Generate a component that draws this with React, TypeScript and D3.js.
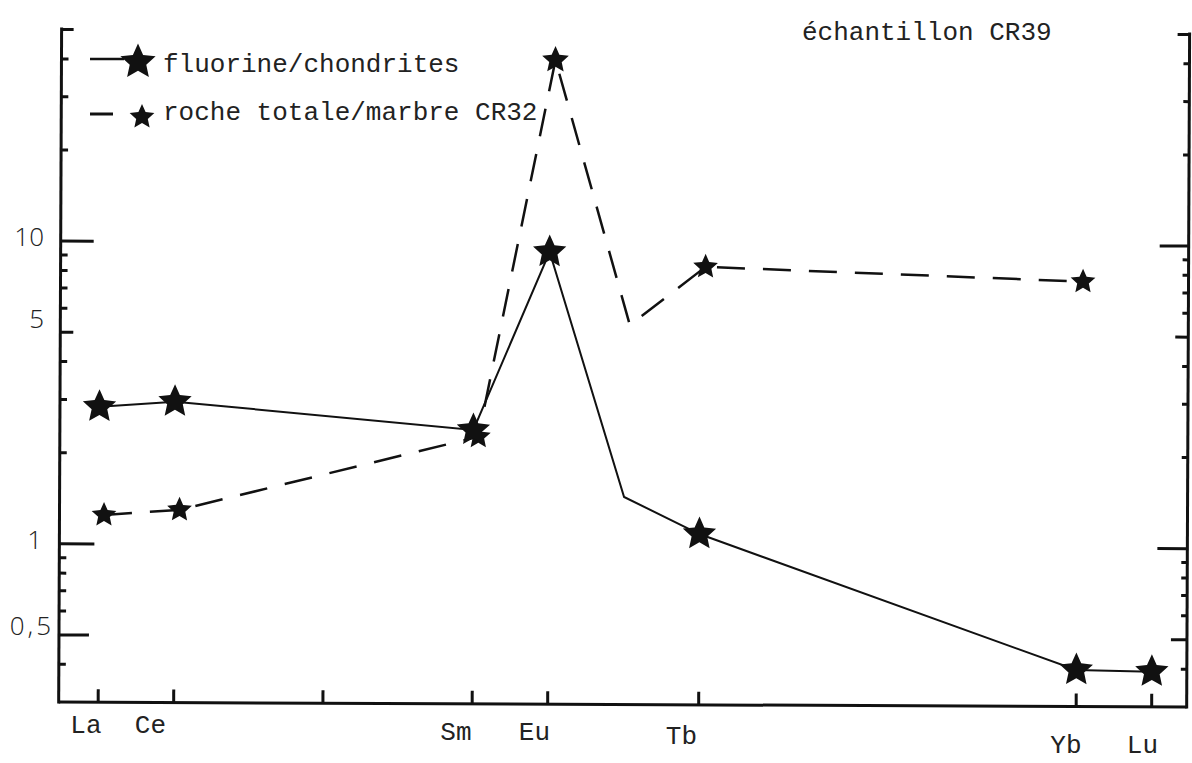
import React from 'react';
import * as d3 from 'd3';

// ---- data ----
const elements = ['La', 'Ce', 'Pr', 'Nd', 'Pm', 'Sm', 'Eu', 'Gd', 'Tb', 'Dy', 'Ho', 'Er', 'Tm', 'Yb', 'Lu'];
const tickedElements = ['La', 'Ce', 'Nd', 'Sm', 'Eu', 'Tb', 'Yb', 'Lu'];
const labeledElements = ['La', 'Ce', 'Sm', 'Eu', 'Tb', 'Yb', 'Lu'];

const fluorineElements = ['La', 'Ce', 'Sm', 'Eu', 'Gd', 'Tb', 'Yb', 'Lu'];
const fluorineValues = [2.84, 2.96, 2.41, 9.36, 1.455, 1.1, 0.396, 0.392];
const fluorineMarked = [true, true, true, true, false, true, true, true];

const rocheElements = ['La', 'Ce', 'Sm', 'Eu', 'Gd', 'Tb', 'Yb'];
const rocheValues = [1.247, 1.3, 2.29, 40.3, 5.38, 8.4, 7.6];
const rocheMarked = [true, true, true, true, false, true, true];

const yLabelValues = [10, 5, 1, 0.5];
const yLabelTexts = ['10', '5', '1', '0,5'];
const yTickValues = [50, 40, 30, 20, 10, 9, 8, 7, 6, 5, 4, 3, 2, 1, 0.9, 0.8, 0.7, 0.6, 0.5, 0.4];

const legendTexts = ['fluorine/chondrites', 'roche totale/marbre CR32'];
const titleText = 'échantillon CR39';

// ---- styling (hand-placed label offsets) ----
const xLabelBaselines = [733, 733, 740, 740, 744, 753, 753];
const xLabelDx = [2, -9, -2, 1, -3, 4, 5];
const yLabelDy = [4, -4.5, 4.5, 0];
const yLabelAnchorX = [44, 44, 42, 54];

const W = 1192;
const H = 763;
const LEFT = 60;
const RIGHT = 1188;
const TOP = 32;
const BOTTOM = 704.5;
const INK = '#111';
const TEXT_INK = '#222';
const MONO = '"Liberation Mono", "DejaVu Sans Mono", monospace';

const xScale = d3.scaleLinear().domain([0, 1, 5, 14]).range([99.5, 175, 473.5, 1153]);
const yScale = d3.scaleLog().domain([0.3, 50]).range([BOTTOM, TOP]);
const idx = (el: string) => elements.indexOf(el);

// five-pointed star with chunky arms, pointing up
const starPath = (r: number, ratio = 0.47) => {
  const p = d3.path();
  for (let k = 0; k < 10; k++) {
    const a = -Math.PI / 2 + (k * Math.PI) / 5;
    const rr = k % 2 === 0 ? r : r * ratio;
    const x = rr * Math.cos(a);
    const y = rr * Math.sin(a);
    if (k === 0) p.moveTo(x, y);
    else p.lineTo(x, y);
  }
  p.closePath();
  return p.toString();
};

const leftTickLen = (v: number) => (v === 10 ? 33 : v === 1 ? 35 : v === 0.5 ? 30 : v === 5 ? 13 : v === 50 ? 12 : 7);
const rightTickLen = (v: number) => (v === 10 ? 29 : v === 1 ? 30 : v === 0.5 ? 16 : v === 5 ? 13 : v === 50 ? 12 : 6);

export default function App() {
  const line = d3
    .line<[number, number]>()
    .x((d) => d[0])
    .y((d) => d[1]);

  const rocheDx = 5;
  const fluorPts: [number, number][] = fluorineElements.map((el, i) => [xScale(idx(el)), yScale(fluorineValues[i])]);
  const rochePts: [number, number][] = rocheElements.map((el, i) => [xScale(idx(el)) + rocheDx, yScale(rocheValues[i])]);

  const bigStar = starPath(17.5);
  const smallStar = starPath(13);

  return (
    <svg
      width={W}
      height={H}
      viewBox={`0 0 ${W} ${H}`}
      style={{ position: 'absolute', left: 0, top: 0, background: '#fff' }}
    >
      <rect x={0} y={0} width={W} height={H} fill="#fff" />
      <g transform="rotate(0.25, 620, 400)">
        {/* frame */}
        <line x1={LEFT} y1={TOP - 2} x2={LEFT} y2={BOTTOM + 1.5} stroke={INK} strokeWidth={3} />
        <line x1={LEFT} y1={BOTTOM} x2={RIGHT} y2={BOTTOM} stroke={INK} strokeWidth={3} />
        <line x1={RIGHT} y1={TOP - 2} x2={RIGHT} y2={BOTTOM + 1.5} stroke={INK} strokeWidth={3} />

        {/* y ticks */}
        {yTickValues.map((v) => (
          <g key={'yt' + v}>
            <line x1={LEFT} x2={LEFT + leftTickLen(v)} y1={yScale(v)} y2={yScale(v)} stroke={INK} strokeWidth={3} />
            <line x1={RIGHT} x2={RIGHT - rightTickLen(v)} y1={yScale(v)} y2={yScale(v)} stroke={INK} strokeWidth={3} />
          </g>
        ))}

        {/* x ticks */}
        {tickedElements.map((el) => (
          <line
            key={'xt' + el}
            x1={xScale(idx(el))}
            x2={xScale(idx(el))}
            y1={BOTTOM}
            y2={BOTTOM - 13}
            stroke={INK}
            strokeWidth={3}
          />
        ))}

        {/* series lines */}
        <path d={line(rochePts) as string} fill="none" stroke={INK} strokeWidth={2.5} strokeDasharray="28 18" />
        <path d={line(fluorPts) as string} fill="none" stroke={INK} strokeWidth={2} />

        {/* markers */}
        {rochePts.map((p, i) =>
          rocheMarked[i] ? (
            <path
              key={'rs' + i}
              d={rocheElements[i] === 'Eu' ? starPath(14) : smallStar}
              transform={`translate(${p[0]},${p[1]})`}
              fill={INK}
            />
          ) : null
        )}
        {fluorPts.map((p, i) =>
          fluorineMarked[i] ? <path key={'fs' + i} d={bigStar} transform={`translate(${p[0]},${p[1]})`} fill={INK} /> : null
        )}
      </g>

      {/* y labels */}
      {yLabelValues.map((v, i) => (
        <text
          key={'yl' + v}
          x={yLabelAnchorX[i]}
          y={yScale(v) - 2 + yLabelDy[i]}
          textAnchor="end"
          fontFamily='"Open Sans", "Liberation Sans", sans-serif'
          fontWeight={300}
          fontSize={26}
          letterSpacing={yLabelTexts[i].includes(',') ? 3 : 0}
          fill={TEXT_INK}
        >
          {yLabelTexts[i]}
        </text>
      ))}

      {/* x labels */}
      {labeledElements.map((el, i) => (
        <text
          key={'xl' + el}
          x={xScale(idx(el)) + xLabelDx[i]}
          y={xLabelBaselines[i]}
          textAnchor="end"
          fontFamily={MONO}
          fontSize={26}
          fill={TEXT_INK}
        >
          {el}
        </text>
      ))}

      {/* legend */}
      <line x1={90} x2={124} y1={59} y2={59} stroke={INK} strokeWidth={2.5} />
      <path d={starPath(18.5)} transform="translate(138,62)" fill={INK} />
      <text x={163} y={72} fontFamily={MONO} fontSize={26} fill={TEXT_INK}>
        {legendTexts[0]}
      </text>
      <line x1={90} x2={113} y1={114} y2={114} stroke={INK} strokeWidth={3} />
      <path d={starPath(13)} transform="translate(142,117)" fill={INK} />
      <text x={163} y={120} fontFamily={MONO} fontSize={26} fill={TEXT_INK}>
        {legendTexts[1]}
      </text>

      {/* title */}
      <text x={802} y={40} fontFamily={MONO} fontSize={26} fill={TEXT_INK}>
        {titleText}
      </text>
    </svg>
  );
}
